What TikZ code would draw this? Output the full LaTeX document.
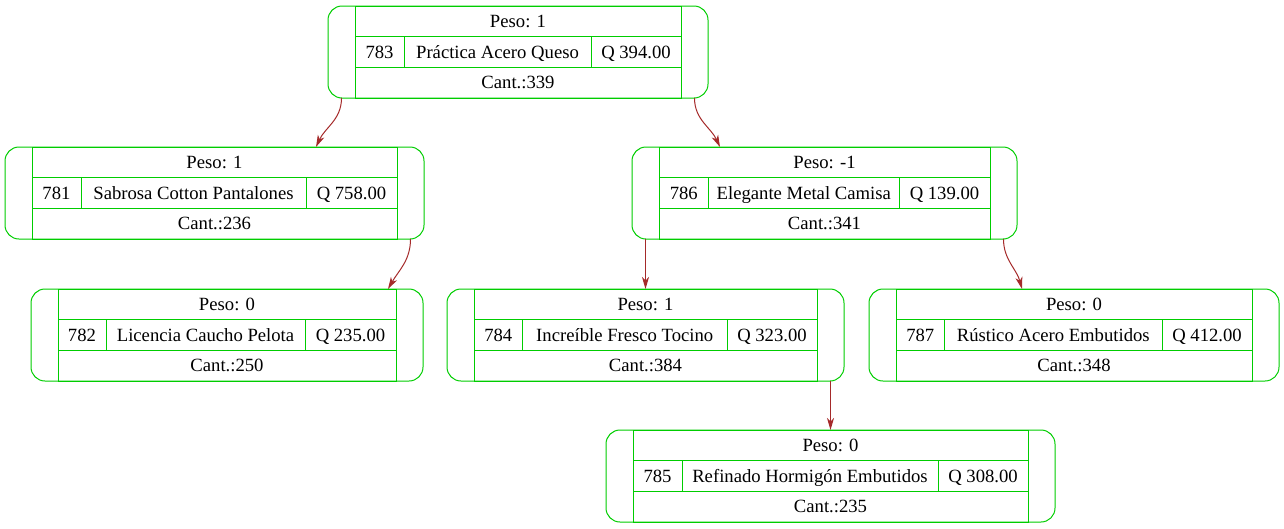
\documentclass[tikz,border=0pt]{standalone}
\usepackage{fontspec}
\setmainfont{Liberation Serif}
\newfontfamily\letraregistro{Liberation Serif}
\usepackage{tikz}
\usetikzlibrary{arrows.meta}

\definecolor{verdenodo}{RGB}{0,205,0}
\definecolor{cafearista}{RGB}{165,42,42}

\tikzset{
  marco/.style={draw=verdenodo, line width=1pt, rounded corners=14pt, inner sep=0pt, outer sep=0pt, anchor=north west},
  lado/.style={inner sep=0pt, outer sep=0pt, minimum width=27pt, minimum height=92pt},
  celda/.style={draw=verdenodo, line width=1pt, inner sep=0pt, outer sep=0pt, anchor=north west, minimum height=30.7pt, text height=14.5pt, text depth=2.5pt},
  arista/.style={draw=cafearista, line width=1pt, -{Stealth[length=12pt, width=7pt, inset=3.5pt]}},
}

\begin{document}
\begin{tikzpicture}[x=1pt, y=-1pt, font=\letraregistro\fontsize{18.67pt}{22pt}\selectfont]
    \useasboundingbox (0,0) rectangle (1284,528);
    \foreach \cod/\xa/\xb/\ys/\ia/\ib/\peso/\desc/\precio/\cant in {
        783/328/708/6/404/591/1/Práctica Acero Queso/Q 394.00/339,
        781/5/424/147/81/306/1/Sabrosa Cotton Pantalones/Q 758.00/236,
        786/632/1017/147/708.5/899/-1/Elegante Metal Camisa/Q 139.00/341,
        782/31/423/289/106/305/0/Licencia Caucho Pelota/Q 235.00/250,
        784/447/844/289/522.5/727/1/Increíble Fresco Tocino/Q 323.00/384,
        787/869/1279/289/944.5/1162/0/Rústico Acero Embutidos/Q 412.00/348,
        785/606/1055/430/682/938/0/Refinado Hormigón Embutidos/Q 308.00/235}
    {
      \node[marco, minimum width={(\xb-\xa)*1pt}, minimum height=92pt] (n\cod) at (\xa,\ys) {};
      \node[lado, anchor=north west] (n\cod-i) at (\xa,\ys) {};
      \node[lado, anchor=north east] (n\cod-d) at (\xb,\ys) {};
      \node[celda, minimum width={(\xb-\xa-54)*1pt}] (n\cod-peso) at (n\cod-i.north east) {Peso: \peso};
      \node[celda, minimum width={(\ia-\xa-27)*1pt}] (n\cod-id) at (n\cod-peso.south west) {\cod};
      \node[celda, minimum width={(\ib-\ia)*1pt}] (n\cod-desc) at (n\cod-id.north east) {\desc};
      \node[celda, minimum width={(\xb-27-\ib)*1pt}] (n\cod-precio) at (n\cod-desc.north east) {\precio};
      \node[celda, minimum width={(\xb-\xa-54)*1pt}] (n\cod-cant) at (n\cod-id.south west) {Cant.:\cant};
    }
    \draw[arista] (n783-i.south) to[out=-90, in=65] ([xshift=101.5pt]n781.north);
    \draw[arista] (n783-d.south) to[out=-90, in=115] ([xshift=-104.5pt]n786.north);
    \draw[arista] (n781-d.south) to[out=-90, in=60] ([xshift=161pt]n782.north);
    \draw[arista] (n786-i.south) -- (n784.north);
    \draw[arista] (n786-d.south) to[out=-90, in=105] ([xshift=-52pt]n787.north);
    \draw[arista] (n784-d.south) -- (n785.north);
\end{tikzpicture}
\end{document}
